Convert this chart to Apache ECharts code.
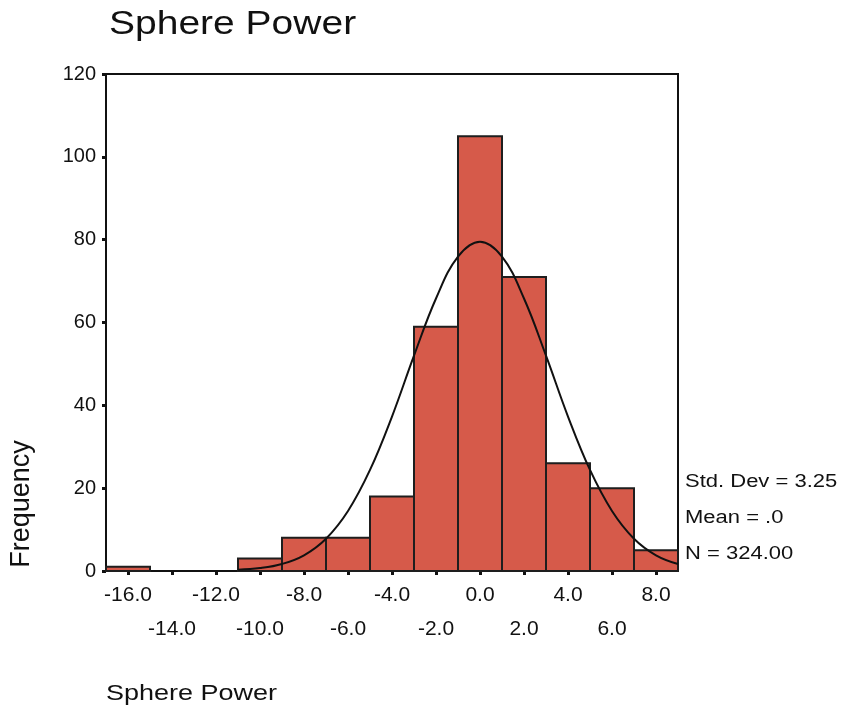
<!DOCTYPE html>
<html>
<head>
<meta charset="utf-8">
<title>Sphere Power</title>
<script src="https://cdn.jsdelivr.net/npm/echarts@6/dist/echarts.min.js"></script>
<style>
  html, body { margin: 0; padding: 0; background: #fff; }
  #container { width: 843px; height: 715px; }
</style>
</head>
<body>
<div id="container"></div>
<script>
  // histogram bins (centre of each 2.0 wide bin) and their counts
  var binCenters = [-16, -14, -12, -10, -8, -6, -4, -2, 0, 2, 4, 6, 8];
  var frequencies = [1, 0, 0, 3, 8, 8, 18, 59, 105, 71, 26, 20, 5];
  var binWidth = 2;

  // normal curve
  var curveX = [-11, -10, -9, -8, -7, -6, -5, -4, -3, -2, -1, 0, 1, 2, 3, 4, 5, 6, 7, 8, 9];
  var curveY = [0.3, 0.7, 1.7, 3.8, 7.8, 14.5, 24.4, 37.3, 52.0, 65.8, 75.9, 79.5, 75.9, 65.8, 52.0, 37.3, 24.4, 14.5, 7.8, 3.8, 1.7];

  var xTicks = [-16, -14, -12, -10, -8, -6, -4, -2, 0, 2, 4, 6, 8];
  var xLabelsTop = [-16, -12, -8, -4, 0, 4, 8];
  var xLabelsBottom = [-14, -10, -6, -2, 2, 6];
  var yTicks = [0, 20, 40, 60, 80, 100, 120];
  var stats = ['Std. Dev = 3.25', 'Mean = .0', 'N = 324.00'];

  var ink = '#111';
  var font = 'Liberation Sans, Arial, sans-serif';

  var dom = document.getElementById('container');
  var myChart = echarts.init(dom);

  var bars = binCenters.map(function (c, i) { return [c, frequencies[i]]; });
  var curve = curveX.map(function (x, i) { return [x, curveY[i]]; });

  function fmt(v) { return v.toFixed(1); }

  var option = {
    animation: false,
    backgroundColor: '#fff',
    grid: {
      left: 106,
      right: 165,
      top: 74,
      bottom: 144,
      show: true,
      backgroundColor: '#fff',
      borderColor: ink,
      borderWidth: 2
    },
    xAxis: [
      {
        type: 'value',
        min: -17,
        max: 9,
        splitLine: { show: false },
        axisLine: { show: true, onZero: false, lineStyle: { color: ink, width: 2 } },
        axisTick: {
          show: true,
          customValues: xTicks,
          length: 4,
          lineStyle: { color: ink, width: 3 }
        },
        axisLabel: {
          customValues: xLabelsTop,
          showMinLabel: true,
          showMaxLabel: true,
          margin: 7,
          color: ink,
          fontFamily: font,
          fontSize: 21,
          lineHeight: 34,
          formatter: fmt
        }
      },
      {
        // second row of tick labels
        type: 'value',
        position: 'bottom',
        min: -17,
        max: 9,
        splitLine: { show: false },
        axisLine: { show: false, onZero: false },
        axisTick: { show: false },
        axisLabel: {
          customValues: xLabelsBottom,
          showMinLabel: true,
          showMaxLabel: true,
          margin: 41,
          color: ink,
          fontFamily: font,
          fontSize: 21,
          lineHeight: 34,
          formatter: fmt
        }
      }
    ],
    yAxis: {
      type: 'value',
      min: 0,
      max: 120,
      interval: 20,
      splitLine: { show: false },
      axisLine: { show: true, onZero: false, lineStyle: { color: ink, width: 2 } },
      axisTick: { show: true, length: 4, lineStyle: { color: ink, width: 3 } },
      axisLabel: {
        showMinLabel: true,
        showMaxLabel: true,
        margin: 10,
        color: ink,
        fontFamily: font,
        fontSize: 20,
        formatter: function (v) { return yTicks.indexOf(v) >= 0 ? String(v) : ''; }
      }
    },
    graphic: [
      {
        type: 'text', x: 109, y: 25, scaleY: 0.83,
        style: { text: 'Sphere Power', fill: ink, font: '39px ' + font,
          align: 'left', textAlign: 'left', verticalAlign: 'middle', textVerticalAlign: 'middle' }
      },
      {
        type: 'text', x: 106, y: 694, scaleY: 0.83,
        style: { text: 'Sphere Power', fill: ink, font: '27px ' + font,
          align: 'left', textAlign: 'left', verticalAlign: 'middle', textVerticalAlign: 'middle' }
      },
      {
        type: 'text', x: 22, y: 504, rotation: Math.PI / 2,
        style: { text: 'Frequency', fill: ink, font: '27px ' + font,
          align: 'center', textAlign: 'center', verticalAlign: 'middle', textVerticalAlign: 'middle' }
      },
      {
        type: 'text', x: 685, y: 482, scaleY: 0.85,
        style: { text: stats[0], fill: ink, font: '22px ' + font,
          align: 'left', textAlign: 'left', verticalAlign: 'middle', textVerticalAlign: 'middle' }
      },
      {
        type: 'text', x: 685, y: 518, scaleY: 0.85,
        style: { text: stats[1], fill: ink, font: '22px ' + font,
          align: 'left', textAlign: 'left', verticalAlign: 'middle', textVerticalAlign: 'middle' }
      },
      {
        type: 'text', x: 685, y: 554, scaleY: 0.85,
        style: { text: stats[2], fill: ink, font: '22px ' + font,
          align: 'left', textAlign: 'left', verticalAlign: 'middle', textVerticalAlign: 'middle' }
      }
    ],
    series: [
      {
        name: 'Frequency',
        type: 'custom',
        xAxisIndex: 0,
        data: bars,
        renderItem: function (params, api) {
          var c = api.value(0);
          var v = api.value(1);
          if (!v) return null;
          var tl = api.coord([c - binWidth / 2, v]);
          var br = api.coord([c + binWidth / 2, 0]);
          return {
            type: 'rect',
            shape: { x: tl[0], y: tl[1], width: br[0] - tl[0], height: br[1] - tl[1] },
            style: { fill: '#d65a4a', stroke: '#1e1e1e', lineWidth: 2 }
          };
        }
      },
      {
        name: 'Normal',
        type: 'line',
        xAxisIndex: 0,
        data: curve,
        smooth: 0.4,
        symbol: 'none',
        lineStyle: { color: ink, width: 2 },
        z: 5
      }
    ]
  };

  myChart.setOption(option, true);
</script>
</body>
</html>
